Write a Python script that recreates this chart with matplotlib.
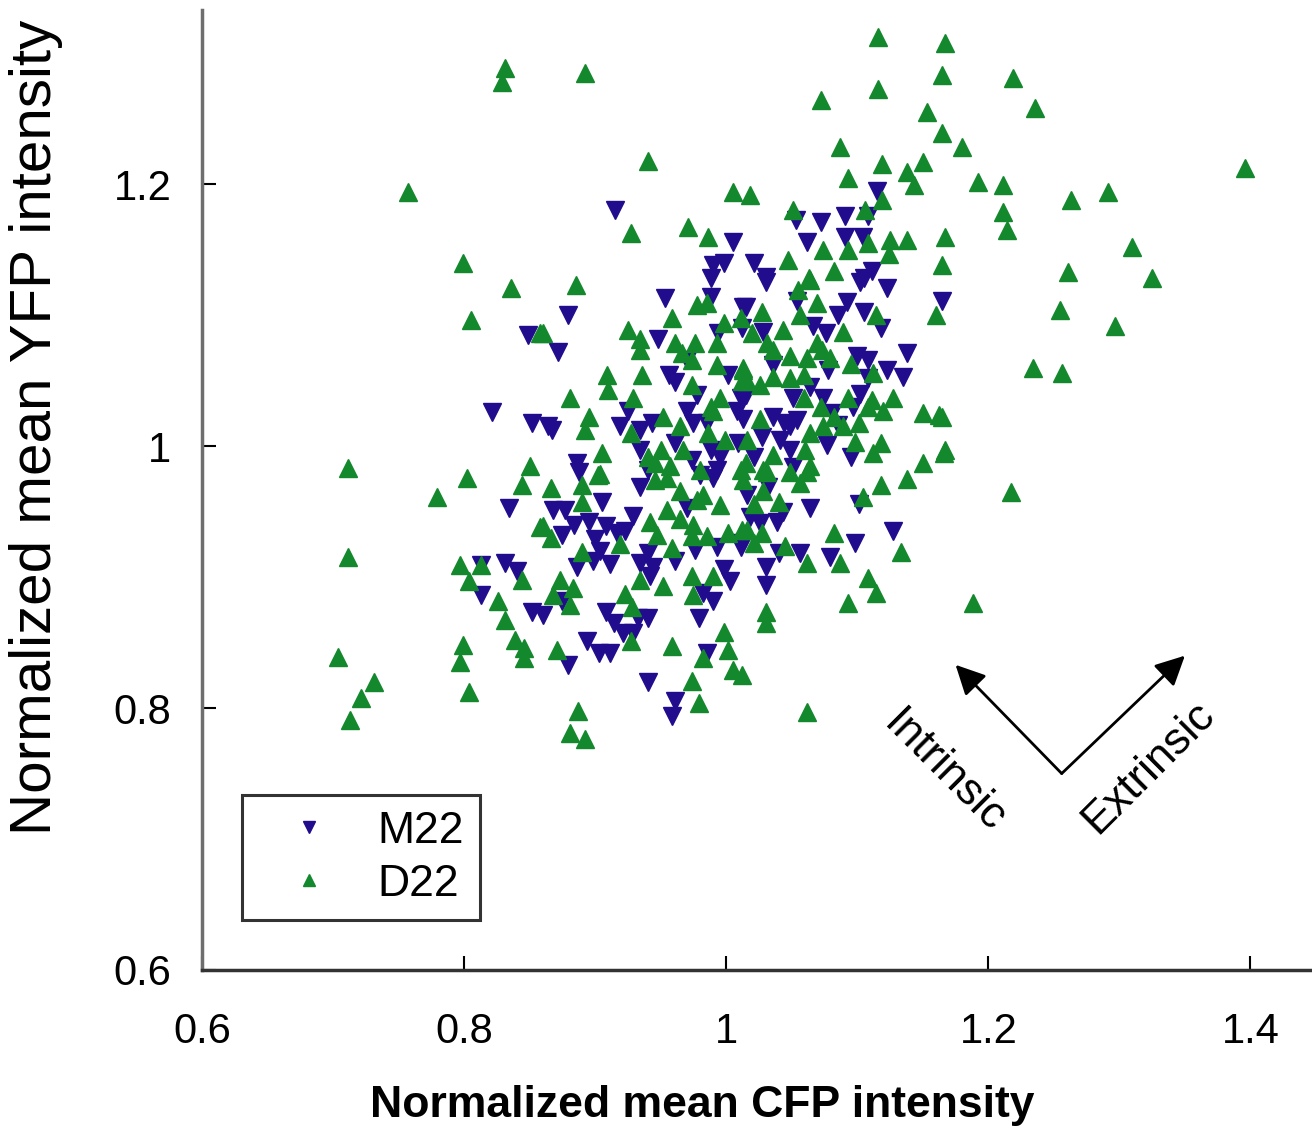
import matplotlib
matplotlib.use("Agg")
import matplotlib.pyplot as plt

# M22 (blue, down triangles): normalized mean CFP, YFP
m22_cfp = [0.915, 1.005, 1.053, 0.990, 0.998, 1.021, 1.030, 1.115, 1.108, 1.072, 1.091, 1.062, 1.091, 1.104,
           1.111, 1.102, 1.123, 1.165, 1.054, 1.092, 1.085, 1.105, 1.066, 1.118,
           0.849, 0.821, 0.852, 0.864, 0.834, 0.813, 0.831, 0.840, 0.813, 0.852,
           0.879, 0.953, 0.988, 1.013, 0.872, 0.948, 0.994, 1.012, 0.970, 0.956, 0.961, 1.001, 0.978, 1.011,
           0.925, 0.919, 0.934, 0.943, 0.970, 0.975, 0.985, 1.008, 1.013, 0.867, 1.009, 0.934, 0.961, 0.974,
           0.988, 0.995, 0.886, 0.940, 0.993, 0.988,
           1.030, 1.105, 1.015, 1.076, 1.028, 1.100, 1.108, 1.138, 1.135, 1.123, 1.108, 1.036, 1.078, 1.064,
           1.015, 1.051, 1.074, 1.102, 1.081, 1.097, 1.036, 1.044, 1.054, 1.085, 1.077, 1.095, 1.027, 1.041,
           1.049, 1.049, 1.051, 1.021,
           0.905, 0.868, 0.877, 0.875, 0.884, 0.895, 0.908, 0.917, 0.923, 0.900, 0.904, 0.886, 0.898, 0.911,
           0.929, 0.934, 0.970, 0.993, 1.011, 0.976, 0.940, 0.934, 0.944, 0.961, 0.942, 0.998, 1.003, 0.982,
           0.990, 0.979, 0.985, 0.940, 0.933, 0.940, 0.908, 0.914, 0.921, 0.929, 0.894, 0.903, 0.911, 0.879,
           0.875, 0.860, 0.888, 0.980, 0.990,
           1.032, 1.016, 1.043, 1.039, 1.018, 1.026, 1.012, 1.064, 1.098, 1.101, 1.127, 1.040, 1.056, 1.079,
           1.030, 1.030, 0.961, 0.959]
m22_yfp = [1.180, 1.156, 1.173, 1.138, 1.140, 1.140, 1.129, 1.195, 1.176, 1.171, 1.176, 1.156, 1.160, 1.160,
           1.134, 1.125, 1.121, 1.111, 1.111, 1.110, 1.100, 1.102, 1.092, 1.090,
           1.085, 1.026, 1.018, 1.015, 0.953, 0.909, 0.911, 0.905, 0.886, 0.873,
           1.100, 1.113, 1.114, 1.106, 1.072, 1.082, 1.086, 1.090, 1.066, 1.054, 1.049, 1.054, 1.039, 1.037,
           1.027, 1.015, 1.012, 1.018, 1.027, 1.018, 1.018, 1.027, 1.021, 1.012, 1.002, 0.997, 1.002, 0.989,
           0.997, 0.992, 0.987, 0.982, 0.982, 1.128,
           1.125, 1.128, 1.106, 1.086, 1.087, 1.069, 1.066, 1.071, 1.053, 1.058, 1.052, 1.062, 1.058, 1.045,
           1.039, 1.037, 1.037, 1.040, 1.025, 1.030, 1.022, 1.018, 1.020, 1.016, 1.001, 0.992, 1.007, 1.005,
           1.015, 0.997, 0.984, 0.992,
           0.957, 0.951, 0.951, 0.932, 0.940, 0.942, 0.939, 0.934, 0.935, 0.929, 0.920, 0.908, 0.912, 0.910,
           0.947, 0.969, 0.953, 0.923, 0.923, 0.921, 0.918, 0.911, 0.908, 0.912, 0.901, 0.906, 0.897, 0.888,
           0.882, 0.869, 0.842, 0.820, 0.869, 0.869, 0.873, 0.865, 0.857, 0.857, 0.851, 0.842, 0.842, 0.833,
           0.882, 0.871, 0.980, 0.978, 0.976,
           0.969, 0.963, 0.950, 0.942, 0.946, 0.941, 0.926, 0.953, 0.926, 0.956, 0.935, 0.918, 0.918, 0.915,
           0.908, 0.894, 0.805, 0.794]

# D22 (green, up triangles)
d22_cfp = [0.831, 0.829, 0.892, 0.940, 0.757, 0.927, 0.971, 0.986, 1.005, 1.018, 1.051, 0.799, 1.047,
           1.116, 1.167, 1.165, 1.219, 1.116, 1.072, 1.153, 1.236, 1.165, 1.180, 1.087, 1.150, 1.119, 1.138,
           1.143, 1.093, 1.192, 1.211, 1.396, 1.263, 1.291, 1.211, 1.214, 1.119, 1.106, 1.074, 1.093, 1.108,
           1.125, 1.138, 1.124, 1.167, 1.082, 1.165, 1.261, 1.310, 1.325, 1.064, 1.069, 1.255, 1.160, 1.114,
           1.056, 1.297, 1.234, 1.256, 1.165, 1.167, 1.217, 1.188,
           0.836, 0.805, 0.858, 0.711, 0.850, 0.802, 0.844, 0.779, 0.858, 0.711, 0.797, 0.813, 0.844, 0.804,
           0.826, 0.831, 0.839, 0.799, 0.846, 0.846, 0.797, 0.704, 0.731, 0.721, 0.713, 0.804,
           0.885, 0.959, 0.978, 0.985, 1.011, 0.998, 0.860, 0.925, 0.934, 0.934, 0.961, 0.976, 0.993, 0.966,
           0.909, 0.936, 0.974, 0.993, 1.013, 1.012, 0.910, 0.881, 0.929, 0.974, 0.995, 0.988, 0.895, 0.952,
           0.990, 0.892, 0.927, 0.965, 0.986, 0.999, 0.940, 0.950, 0.967, 0.905, 0.904, 0.946, 0.957, 0.980,
           1.011,
           1.063, 1.055, 1.027, 1.089, 1.043, 1.020, 1.031, 1.036, 1.049, 1.069, 1.073, 1.062, 1.079, 1.095,
           1.112, 1.013, 1.016, 1.036, 1.049, 1.059, 1.026, 1.059, 1.093, 1.111, 1.127, 1.072, 1.082, 1.108,
           1.120, 1.150, 1.162, 1.026, 1.064, 1.074, 1.089, 1.101, 1.098, 1.118, 1.112, 1.150, 1.166, 1.016,
           1.036, 1.060, 1.064, 1.015, 1.028,
           0.902, 0.866, 0.890, 0.890, 0.860, 0.866, 0.919, 0.890, 0.946, 0.955, 0.942, 0.947, 0.955, 0.965,
           0.978, 0.982, 0.995, 0.965, 0.975, 0.974, 0.985, 1.001, 1.012, 0.959, 0.934, 0.952, 0.974, 0.990,
           0.975, 0.998, 1.001, 1.005, 0.982, 0.974, 0.959, 0.927, 0.923, 0.928, 0.871, 0.873, 0.883, 0.868,
           0.881,
           1.013, 1.031, 1.049, 1.062, 1.056, 1.028, 1.021, 1.040, 1.016, 1.027, 1.021, 1.082, 1.104, 1.118,
           1.138, 1.133, 1.045, 1.062, 1.087, 1.108, 1.114, 1.093, 1.030, 1.030, 1.012,
           0.887, 0.881, 0.892, 0.979, 1.062]
d22_yfp = [1.289, 1.278, 1.285, 1.218, 1.194, 1.163, 1.167, 1.160, 1.194, 1.192, 1.180, 1.140, 1.142,
           1.312, 1.308, 1.283, 1.281, 1.273, 1.264, 1.255, 1.258, 1.239, 1.228, 1.228, 1.217, 1.215, 1.209,
           1.199, 1.205, 1.202, 1.199, 1.212, 1.188, 1.194, 1.179, 1.165, 1.188, 1.180, 1.150, 1.150, 1.155,
           1.157, 1.157, 1.147, 1.160, 1.134, 1.138, 1.133, 1.152, 1.128, 1.127, 1.109, 1.104, 1.100, 1.100,
           1.100, 1.092, 1.060, 1.056, 1.022, 0.997, 0.965, 0.880,
           1.121, 1.096, 1.086, 0.983, 0.985, 0.976, 0.970, 0.961, 0.938, 0.915, 0.909, 0.909, 0.898, 0.897,
           0.882, 0.867, 0.852, 0.848, 0.846, 0.838, 0.835, 0.839, 0.820, 0.808, 0.791, 0.812,
           1.123, 1.098, 1.108, 1.109, 1.098, 1.094, 1.086, 1.089, 1.082, 1.073, 1.079, 1.079, 1.079, 1.071,
           1.054, 1.054, 1.066, 1.062, 1.060, 1.050, 1.043, 1.037, 1.037, 1.047, 1.037, 1.030, 1.022, 1.022,
           1.027, 1.012, 1.010, 1.015, 1.010, 1.005, 0.992, 0.997, 0.997, 0.995, 0.979, 0.987, 0.985, 0.982,
           0.982,
           1.128, 1.119, 1.102, 1.087, 1.089, 1.086, 1.079, 1.073, 1.069, 1.079, 1.073, 1.067, 1.067, 1.063,
           1.056, 1.058, 1.050, 1.053, 1.052, 1.054, 1.047, 1.037, 1.037, 1.035, 1.037, 1.030, 1.022, 1.030,
           1.027, 1.025, 1.024, 1.021, 1.010, 1.015, 1.015, 1.018, 1.003, 1.002, 0.995, 0.987, 0.995, 1.005,
           0.993, 0.997, 0.985, 0.987, 0.982,
           0.978, 0.968, 0.970, 0.957, 0.939, 0.930, 0.925, 0.919, 0.974, 0.976, 0.942, 0.932, 0.951, 0.966,
           0.959, 0.963, 0.955, 0.944, 0.940, 0.931, 0.931, 0.934, 0.936, 0.922, 0.898, 0.893, 0.901, 0.901,
           0.886, 0.858, 0.844, 0.829, 0.838, 0.821, 0.847, 0.851, 0.887, 0.877, 0.844, 0.898, 0.892, 0.886,
           0.879,
           0.974, 0.980, 0.980, 0.980, 0.972, 0.966, 0.956, 0.957, 0.936, 0.934, 0.926, 0.934, 0.961, 0.970,
           0.975, 0.919, 0.924, 0.911, 0.911, 0.899, 0.888, 0.880, 0.873, 0.865, 0.825,
           0.798, 0.781, 0.776, 0.804, 0.797]

x_ticks = [0.6, 0.8, 1.0, 1.2, 1.4]
x_tick_labels = ["0.6", "0.8", "1", "1.2", "1.4"]
y_ticks = [0.6, 0.8, 1.0, 1.2]
y_tick_labels = ["0.6", "0.8", "1", "1.2"]

blue = "#200C8C"
green = "#13882D"

plt.rcParams["font.family"] = ["Liberation Sans", "DejaVu Sans"]

fig = plt.figure(figsize=(13.12, 11.3), dpi=100)
ax = fig.add_axes([0.154, 0.1416, 0.846, 0.8496])

ax.plot(m22_cfp, m22_yfp, linestyle="none", marker="v", ms=12.5, color=blue, label="M22")
ax.plot(d22_cfp, d22_yfp, linestyle="none", marker="^", ms=12.5, color=green, label="D22")

ax.set_xlim(0.6, 1.447)
ax.set_ylim(0.6, 1.333)
ax.set_xticks(x_ticks)
ax.set_xticklabels(x_tick_labels)
ax.set_yticks(y_ticks)
ax.set_yticklabels(y_tick_labels)
ax.tick_params(direction="in", length=10, width=1.5, labelsize=30, colors="black")
ax.tick_params(axis="x", pad=30)
ax.tick_params(axis="y", pad=22)

for s in ["top", "right"]:
    ax.spines[s].set_visible(False)
ax.spines["left"].set_color("#6e6e6e")
ax.spines["left"].set_linewidth(2.5)
ax.spines["bottom"].set_color("#333333")
ax.spines["bottom"].set_linewidth(2.5)

ax.set_xlabel("Normalized mean CFP intensity", fontsize=32, fontweight="bold")
ax.xaxis.set_label_coords(0.451, -0.12)
ax.set_ylabel("Normalized mean YFP intensity", fontsize=42)
ax.yaxis.set_label_coords(-0.125, 0.565)

leg = ax.legend(loc="lower left", bbox_to_anchor=(0.036, 0.052), fontsize=32, markerscale=0.7,
                frameon=True, fancybox=False, edgecolor="black", borderpad=0.35,
                labelspacing=0.27, handlelength=2.3, handletextpad=0.4, borderaxespad=0)
leg.get_frame().set_linewidth(2.2)

# intrinsic / extrinsic noise directions
origin = (1.256, 0.750)
ax.annotate("", xy=(1.175, 0.833), xytext=origin,
            arrowprops=dict(arrowstyle="-|>", mutation_scale=45, lw=2, color="black", shrinkA=0, shrinkB=0))
ax.annotate("", xy=(1.350, 0.840), xytext=origin,
            arrowprops=dict(arrowstyle="-|>", mutation_scale=45, lw=2, color="black", shrinkA=0, shrinkB=0))
ax.text(1.166, 0.751, "Intrinsic", rotation=-45, fontsize=32, ha="center", va="center", rotation_mode="anchor")
ax.text(1.322, 0.755, "Extrinsic", rotation=45, fontsize=32, ha="center", va="center", rotation_mode="anchor")

fig.savefig("out.png", dpi=100)
